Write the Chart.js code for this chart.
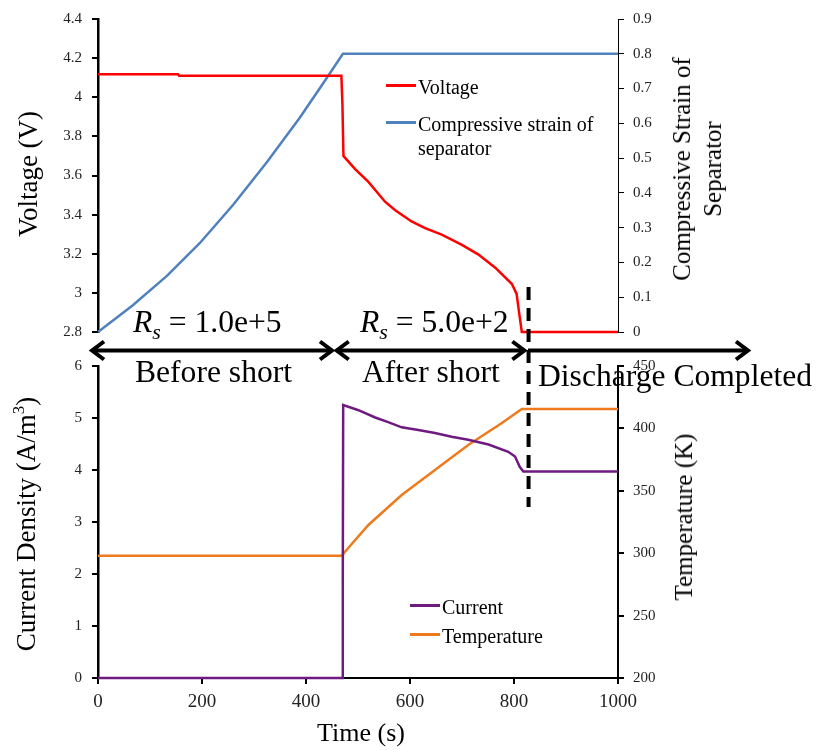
<!DOCTYPE html>
<html>
<head>
<meta charset="utf-8">
<script src="https://cdn.jsdelivr.net/npm/chart.js@4.4.1/dist/chart.umd.min.js"></script>
<style>
  body { margin: 0; background: #fff; }
  #wrap { position: relative; width: 816px; height: 750px; font-family: "Liberation Serif", "Times New Roman", serif; color: #000; overflow: hidden; }
  #wrap canvas { position: absolute; left: 0; top: 0; }
  .txt { position: absolute; white-space: nowrap; line-height: 32px; font-size: 31.6px; }
  .sub { font-size: 22px; position: relative; top: 7px; font-style: italic; }
  .vt { position: absolute; white-space: nowrap; text-align: center; transform: translate(-50%, -50%) rotate(-90deg); }
  .ht { position: absolute; white-space: nowrap; transform: translate(-50%, -50%); }
  .leg { position: absolute; font-size: 20px; line-height: 24px; }
  .leg .sw { position: absolute; left: 0; top: 8.5px; width: 30px; height: 3px; }
  .leg .lb { margin-left: 32px; white-space: nowrap; }
</style>
</head>
<body>
<div id="wrap">
  <canvas id="topChart" width="816" height="750"></canvas>
  <canvas id="botChart" width="816" height="750"></canvas>

  <div class="vt" style="left:28px;top:174px;font-size:27px;line-height:32px;">Voltage (V)</div>
  <div class="vt" style="left:697px;top:169px;font-size:25px;line-height:31px;">Compressive Strain of<br>Separator</div>
  <div class="vt" style="left:28px;top:524px;font-size:27px;line-height:32px;">Current Density (A/m<span style="font-size:17px;position:relative;top:-11px;">3</span>)</div>
  <div class="vt" style="left:684px;top:517px;font-size:25px;line-height:30px;">Temperature (K)</div>
  <div class="ht" style="left:361px;top:733px;font-size:26px;line-height:30px;">Time (s)</div>

  <div class="txt" style="left:133px;top:306px;"><i>R</i><span class="sub">s</span> = 1.0e+5</div>
  <div class="txt" style="left:360px;top:306px;"><i>R</i><span class="sub">s</span> = 5.0e+2</div>
  <div class="txt" style="left:135px;top:356px;">Before short</div>
  <div class="txt" style="left:362px;top:356px;">After short</div>
  <div class="txt" style="left:538px;top:360px;">Discharge Completed</div>

  <div id="legendTop"></div>
  <div id="legendBot"></div>
</div>

<script>
// values (time in s)
const voltageTime   = [0, 154, 156, 468, 470, 472, 494, 520, 552, 571, 603, 629, 661, 699, 731, 764, 796, 805, 811, 815, 1000];
const voltageValues = [4.117, 4.117, 4.11, 4.11, 3.97, 3.70, 3.634, 3.567, 3.466, 3.424, 3.365, 3.331, 3.298, 3.247, 3.197, 3.129, 3.045, 2.995, 2.876, 2.80, 2.80];

const strainTime   = [0, 67, 133, 196, 260, 325, 388, 437, 471, 1000];
const strainValues = [0, 0.077, 0.162, 0.256, 0.366, 0.489, 0.616, 0.724, 0.80, 0.80];

const currentTime   = [0, 470, 470.5, 471, 471.5, 501, 533, 558, 584, 616, 648, 680, 712, 751, 789, 802, 811, 818, 1000];
const currentValues = [0, 0, 1.85, 1.85, 5.25, 5.15, 5.01, 4.92, 4.82, 4.77, 4.71, 4.64, 4.58, 4.49, 4.35, 4.26, 4.06, 3.97, 3.97];

const tempTime   = [0, 469, 475, 520, 584, 648, 712, 776, 815, 1000];
const tempValues = [298, 298, 301.2, 322.6, 346.6, 366.7, 386.7, 404.1, 415.5, 415.5];

const timeTicks    = [0, 200, 400, 600, 800, 1000];
const voltageTicks = [2.8, 3, 3.2, 3.4, 3.6, 3.8, 4, 4.2, 4.4];
const strainTicks  = [0, 0.1, 0.2, 0.3, 0.4, 0.5, 0.6, 0.7, 0.8, 0.9];
const currentTicks = [0, 1, 2, 3, 4, 5, 6];
const tempTicks    = [200, 250, 300, 350, 400, 450];

// phase arrows (time range) and end-of-discharge line
const phaseArrows = [
  { from: -11.5, to: 450, startHead: true, endHead: true },
  { from: 459, to: 820, startHead: true, endHead: true },
  { from: 827, to: 1250, startHead: false, endHead: true }
];
const dischargeEnd = 828;

Chart.defaults.font.family = '"Liberation Serif", "Times New Roman", serif';
Chart.defaults.color = '#222';
Chart.defaults.animation = false;

function pts(xs, ys){ return xs.map((x, i) => ({ x, y: ys[i] })); }
function fmt(v){ return String(Math.round(v * 100) / 100); }
function fixedTicks(arr){ return (scale) => { scale.ticks = arr.map(v => ({ value: v })); }; }

function yAxis(pos, min, max, ticks, width, borderW, tickSize){
  return {
    type: 'linear', position: pos, min, max,
    afterBuildTicks: fixedTicks(ticks),
    afterFit: (s) => { s.width = width; },
    ticks: { callback: fmt, padding: pos === 'left' ? 10 : 9, font: { size: tickSize } },
    grid: { drawOnChartArea: false, drawTicks: true, tickLength: 6, color: '#000', lineWidth: borderW > 1.5 ? 2 : 1 },
    border: { display: true, color: '#000', width: borderW }
  };
}

function line(label, xs, ys, color, axis){
  return { label, data: pts(xs, ys), borderColor: color, backgroundColor: color, borderWidth: 2.5,
           pointRadius: 0, tension: 0, yAxisID: axis, clip: 6 };
}

function drawHead(ctx, tipX, y, dir){
  ctx.beginPath();
  ctx.moveTo(tipX + dir * 12, y - 9);
  ctx.lineTo(tipX, y);
  ctx.lineTo(tipX + dir * 12, y + 9);
  ctx.stroke();
}

const phasePlugin = {
  id: 'phases',
  afterDraw(chart){
    const { ctx, chartArea } = chart;
    const x = chart.scales.x;
    const y = chartArea.bottom + 18.5;
    ctx.save();
    ctx.strokeStyle = '#000';
    ctx.lineWidth = 4;
    ctx.lineJoin = 'miter';
    for (const a of phaseArrows){
      const x1 = x.getPixelForValue(a.from), x2 = x.getPixelForValue(a.to);
      ctx.beginPath();
      ctx.moveTo(x1 + (a.startHead ? 2 : 0), y);
      ctx.lineTo(x2 - 2, y);
      ctx.stroke();
      if (a.startHead) drawHead(ctx, x1, y, 1);
      if (a.endHead) drawHead(ctx, x2, y, -1);
    }
    const dx = x.getPixelForValue(dischargeEnd);
    ctx.setLineDash([13, 8]);
    ctx.beginPath();
    ctx.moveTo(dx, chartArea.bottom - 45);
    ctx.lineTo(dx, chartArea.bottom + 175);
    ctx.stroke();
    ctx.restore();
  }
};

const topDatasets = [
  line('Voltage', voltageTime, voltageValues, '#FF0000', 'yV'),
  line('Compressive strain of|separator', strainTime, strainValues, '#4F81BD', 'yS')
];

new Chart(document.getElementById('topChart'), {
  type: 'line',
  data: { datasets: topDatasets },
  options: {
    responsive: false,
    layout: { autoPadding: false, padding: { left: 0, right: 0, top: 15, bottom: 418 } },
    plugins: { legend: { display: false }, tooltip: { enabled: false } },
    scales: {
      x: { type: 'linear', min: 0, max: 1000, display: false },
      yV: yAxis('left', 2.8, 4.4, voltageTicks, 98, 2.5, 15),
      yS: yAxis('right', 0, 0.9, strainTicks, 198, 1, 15)
    }
  },
  plugins: [phasePlugin]
});

const botDatasets = [
  line('Current', currentTime, currentValues, '#6F1A7F', 'yC'),
  line('Temperature', tempTime, tempValues, '#EE7A1E', 'yT')
];

new Chart(document.getElementById('botChart'), {
  type: 'line',
  data: { datasets: botDatasets },
  options: {
    responsive: false,
    layout: { autoPadding: false, padding: { left: 0, right: 0, top: 366, bottom: 0 } },
    plugins: { legend: { display: false }, tooltip: { enabled: false } },
    scales: {
      x: {
        type: 'linear', min: 0, max: 1000,
        afterBuildTicks: fixedTicks(timeTicks),
        afterFit: (s) => { s.height = 72; },
        ticks: { callback: fmt, padding: 7, font: { size: 19 } },
        grid: { drawOnChartArea: false, drawTicks: true, tickLength: 6, color: '#000', lineWidth: 2 },
        border: { display: true, color: '#000', width: 2 }
      },
      yC: yAxis('left', 0, 6, currentTicks, 98, 2.5, 15),
      yT: yAxis('right', 200, 450, tempTicks, 198, 2, 15)
    }
  }
});

// HTML legends built from the datasets
function buildLegend(el, datasets, left, firstY){
  datasets.forEach((ds, i) => {
    const item = document.createElement('div');
    item.className = 'leg';
    item.style.left = left + 'px';
    item.style.top = (firstY[i] - 10) + 'px';
    const sw = document.createElement('div');
    sw.className = 'sw';
    sw.style.background = ds.borderColor;
    const lb = document.createElement('div');
    lb.className = 'lb';
    lb.innerHTML = ds.label.split('|').join('<br>');
    item.appendChild(sw);
    item.appendChild(lb);
    el.appendChild(item);
  });
}
buildLegend(document.getElementById('legendTop'), topDatasets, 386, [85, 122]);
buildLegend(document.getElementById('legendBot'), botDatasets, 410, [605, 634]);
</script>
</body>
</html>
